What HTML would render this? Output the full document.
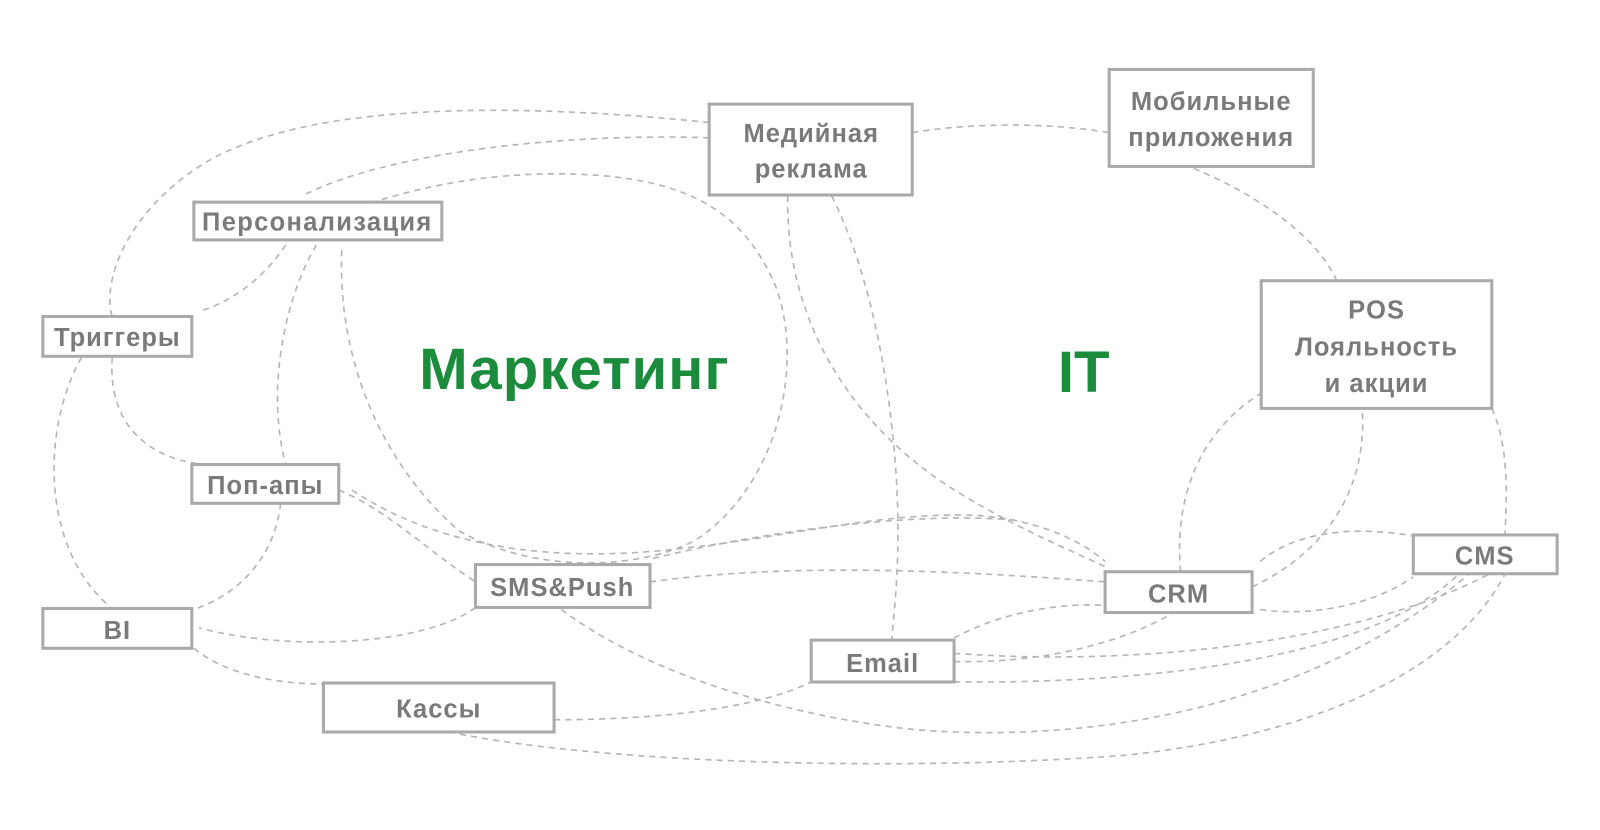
<!DOCTYPE html>
<html><head><meta charset="utf-8"><style>
html,body{margin:0;padding:0;background:#fff;}
svg{display:block}
text{font-family:"Liberation Sans","DejaVu Sans",sans-serif;font-weight:bold;fill:#7a7a7a;}
</style></head><body>
<svg width="1600" height="830" viewBox="0 0 1568 813" preserveAspectRatio="none" xmlns="http://www.w3.org/2000/svg">
<rect width="1568" height="813" fill="#fff"/>
<g fill="none" stroke="#b5b5b5" stroke-width="1.6" stroke-dasharray="6 5">
<path d="M335 245 C330 360 380 460 450 520 C520 560 620 560 680 530 C760 480 790 360 760 280 C730 210 680 180 590 172 C500 165 420 180 360 200"/>
<path d="M695 120 C500 100 300 100 200 160 C120 210 100 280 110 310"/>
<path d="M695 135 C550 130 380 150 300 190"/>
<path d="M894 130 C950 120 1030 120 1087 130"/>
<path d="M772 192 C770 300 820 400 920 470 C980 510 1040 535 1083 555"/>
<path d="M815 192 C860 280 880 420 880 520 C880 570 876 600 874 627"/>
<path d="M1170 165 C1230 190 1290 230 1310 275"/>
<path d="M280 240 C260 270 230 295 195 305"/>
<path d="M310 240 C280 290 260 380 280 455"/>
<path d="M110 350 C105 420 150 450 200 455"/>
<path d="M80 350 C40 420 40 540 110 596"/>
<path d="M275 493 C270 540 240 580 190 597"/>
<path d="M332 480 C380 500 420 540 466 570"/>
<path d="M345 480 C420 530 520 550 640 540 C760 530 860 500 960 505 C1020 510 1060 530 1083 550"/>
<path d="M637 570 C780 550 950 560 1083 570"/>
<path d="M640 547 C750 520 900 500 1000 510"/>
<path d="M550 597 C620 650 750 700 900 715 C1100 730 1300 680 1440 562"/>
<path d="M466 595 C420 630 290 640 195 615"/>
<path d="M190 635 C220 660 270 670 317 670"/>
<path d="M440 717 C600 750 900 755 1100 740 C1300 720 1430 650 1475 562"/>
<path d="M543 705 C640 705 740 695 795 668"/>
<path d="M935 625 C980 600 1040 590 1083 593"/>
<path d="M935 648 C1020 650 1100 630 1150 600"/>
<path d="M935 668 C1150 670 1350 640 1430 562"/>
<path d="M935 640 C1150 655 1350 620 1460 562"/>
<path d="M1157 560 C1150 480 1180 420 1236 385"/>
<path d="M1227 575 C1300 540 1340 480 1335 400"/>
<path d="M1235 550 C1270 520 1330 515 1385 525"/>
<path d="M1235 597 C1290 605 1350 590 1385 565"/>
<path d="M1462 400 C1480 440 1476 490 1475 524"/>
</g>
<g fill="#fff" stroke="#aaaaaa" stroke-width="3">
<rect x="695" y="102" width="199" height="89"/>
<rect x="1087" y="68" width="200" height="95"/>
<rect x="190" y="198" width="243" height="37"/>
<rect x="42" y="310" width="146" height="39"/>
<rect x="1236" y="275" width="226" height="125"/>
<rect x="188" y="455" width="144" height="38"/>
<rect x="466" y="553" width="171" height="42"/>
<rect x="1385" y="524" width="141" height="38"/>
<rect x="1083" y="560" width="144" height="40"/>
<rect x="42" y="596" width="146" height="39"/>
<rect x="795" y="627" width="140" height="41"/>
<rect x="317" y="669" width="226" height="48"/>
</g>
<g font-size="25" text-anchor="middle" letter-spacing="1">
<text x="795" y="139">Медийная</text>
<text x="795" y="174">реклама</text>
<text x="1187" y="108">Мобильные</text>
<text x="1187" y="143">приложения</text>
<text x="311" y="226" letter-spacing="1.3">Персонализация</text>
<text x="115" y="339">Триггеры</text>
<text x="1349" y="312">POS</text>
<text x="1349" y="348">Лояльность</text>
<text x="1349" y="384">и акции</text>
<text x="260" y="484">Поп-апы</text>
<text x="551" y="584">SMS&amp;Push</text>
<text x="1455" y="553">CMS</text>
<text x="1155" y="590">CRM</text>
<text x="115" y="626">BI</text>
<text x="865" y="658">Email</text>
<text x="430" y="703">Кассы</text>
</g>
<text x="563" y="381" font-size="57" text-anchor="middle" letter-spacing="1" style="fill:#1b8c3c">Маркетинг</text>
<text x="1062" y="384" font-size="57" text-anchor="middle" style="fill:#1b8c3c">IT</text>
</svg>
</body></html>
